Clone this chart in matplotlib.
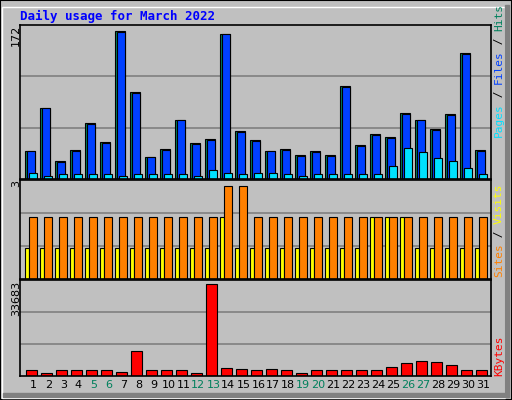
import numpy as np
import matplotlib.pyplot as plt
from matplotlib.patches import Rectangle

days = np.arange(1, 32)
hits = [33, 83, 21, 34, 65, 43, 172, 101, 26, 35, 69, 42, 46, 169, 56, 45,
        33, 35, 28, 32, 28, 108, 39, 52, 49, 77, 69, 58, 75, 146, 34]
files = [32, 82, 20, 33, 64, 42, 171, 100, 25, 34, 68, 41, 45, 168, 55, 44,
         32, 34, 27, 31, 27, 107, 38, 51, 48, 76, 68, 57, 74, 145, 33]
pages = [7, 3, 6, 6, 6, 6, 4, 6, 6, 6, 6, 3, 10, 7, 6, 7,
         7, 6, 3, 6, 6, 6, 6, 6, 15, 36, 31, 24, 21, 13, 6]
visits = [1] * 31
for d in (14, 24, 25, 26):
    visits[d - 1] = 2
sites = [2] * 31
sites[13] = 3
sites[14] = 3
kbytes = [2335, 1229, 2335, 2335, 2335, 2335, 1598, 8972, 2335, 2335, 2335, 1229,
          33683, 3073, 2704, 2335, 2704, 2335, 1229, 2335, 2335, 2335, 2335, 2335,
          3441, 4916, 5653, 5285, 4179, 2335, 2335]
weekend = [5, 6, 12, 13, 19, 20, 26, 27]

BG = "#C0C0C0"
W, H = 512, 400
fig = plt.figure(figsize=(W / 100, H / 100), dpi=100, facecolor=BG)
mono = "DejaVu Sans Mono"

# outer border: white top/left, dark shadow right/bottom
fig.patches.append(Rectangle((0, 0), 1, 1, transform=fig.transFigure, fill=False,
                             edgecolor="black", lw=1.5))
fig.patches.append(Rectangle((2 / W, 2 / H), 1 - 9 / W, 1 - 9 / H, transform=fig.transFigure,
                             fill=False, edgecolor="white", lw=1))
fig.patches.append(Rectangle((W - 7, 3), 4, H - 8, transform=None,
                             color="#808080"))
fig.patches.append(Rectangle((3, 3), W - 7, 4, transform=None, color="#808080"))


def panel(top, bottom):
    ax = fig.add_axes([20 / W, 1 - bottom / H, (491 - 20) / W, (bottom - top) / H])
    ax.set_facecolor(BG)
    ax.set_xlim(0.11, 31.51)
    ax.set_xticks([])
    ax.set_yticks([])
    for s in ax.spines.values():
        s.set_color("black")
        s.set_linewidth(1.2)
    return ax


def grid(ax, ymax):
    for f in (1 / 3, 2 / 3):
        ax.axhline(ymax * f, color="#808080", lw=1.2, zorder=0)


# top panel: hits / files / pages
ax1 = panel(25, 179)
ym1 = 172 * 154 / 148
ax1.set_ylim(0, ym1)
grid(ax1, ym1)
ax1.bar(days - 0.55, hits, width=0.64, align="edge", color="#00805C", edgecolor="black", lw=0.8)
ax1.bar(days - 0.45, files, width=0.54, align="edge", color="#0040FF", edgecolor="black", lw=0.8)
ax1.bar(days - 0.27, pages, width=0.49, align="edge", color="#00E0FF", edgecolor="black", lw=0.8)

# middle panel: visits / sites
ax2 = panel(180, 279)
ym2 = 3 * 99 / 93
ax2.set_ylim(0, ym2)
grid(ax2, ym2)
ax2.bar(days - 0.53, visits, width=0.26, align="edge", color="#FFFF00", edgecolor="black", lw=0.8)
ax2.bar(days - 0.27, sites, width=0.49, align="edge", color="#FF8000", edgecolor="black", lw=0.8)

# bottom panel: kbytes
ax3 = panel(280, 376)
ym3 = 33683 * 96 / 92
ax3.set_ylim(0, ym3)
grid(ax3, ym3)
ax3.bar(days - 0.49, kbytes, width=0.71, align="edge", color="#FF0000", edgecolor="black", lw=0.8)

# day labels
for d in days:
    ax3.text(d, -0.04, str(d), transform=ax3.get_xaxis_transform(), ha="center", va="top",
             fontsize=8, color="#00805C" if d in weekend else "black")

# title
fig.text(20 / W, 1 - 16 / H, "Daily usage for March 2022", family=mono, weight="bold",
         fontsize=9, color="#0000FF", va="center")

# left max labels
for txt, y in (("172", 25), ("3", 180), ("33683", 281)):
    fig.text(16 / W, 1 - y / H, txt, rotation=90, ha="center", va="top", fontsize=8)


# right axis legends
def legend(parts, y_bottom):
    y = y_bottom
    for txt, col in parts:
        t = fig.text(499 / W, 1 - y / H, txt, rotation=90, ha="center", va="bottom",
                     family=mono, fontsize=8, color=col)
        y -= len(txt) * 6.6


legend([("Pages", "#00E0FF"), (" / ", "black"), ("Files", "#0040FF"), (" / ", "black"),
        ("Hits", "#00805C")], 137)
legend([("Sites", "#FF8000"), (" / ", "black"), ("Visits", "#FFFF00")], 277)
legend([("KBytes", "#FF0000")], 376)

fig.savefig("out.png", dpi=100, facecolor=BG)
